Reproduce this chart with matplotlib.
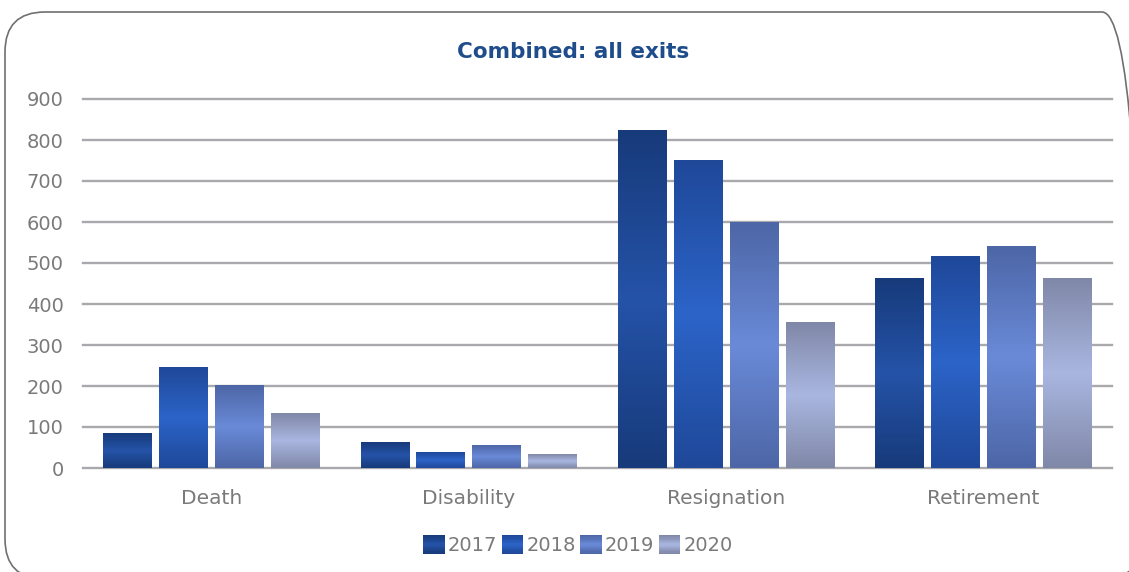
import numpy as np
import matplotlib
matplotlib.use('Agg')
import matplotlib.pyplot as plt
import matplotlib.patches as mpatches
import matplotlib.transforms as mtransforms
from matplotlib.colors import LinearSegmentedColormap
from matplotlib.legend_handler import HandlerBase

categories = ['Death', 'Disability', 'Resignation', 'Retirement']
years = ['2017', '2018', '2019', '2020']
exits_2017 = [84, 61, 822, 461]
exits_2018 = [244, 39, 751, 515]
exits_2019 = [202, 54, 600, 541]
exits_2020 = [134, 32, 354, 461]
series = [exits_2017, exits_2018, exits_2019, exits_2020]

# (edge, middle) colours of the vertical gradient for each year
shades = [('#173a7a', '#2553a8'),
          ('#1f4899', '#2c64c8'),
          ('#4d66a6', '#6a8ad8'),
          ('#8088a8', '#a9b6e0')]
cmaps = [LinearSegmentedColormap.from_list(y, [e, m, e]) for y, (e, m) in zip(years, shades)]

GREY = '#7a7a7a'
GRID = '#a9a9ad'

fig = plt.figure(figsize=(11.29, 5.72), dpi=100)
ax = fig.add_axes([83 / 1129, 1 - 468 / 572, 1029 / 1129, 369 / 572])

x = np.arange(len(categories))
pitch = 0.2175
width = 0.19
grad = np.linspace(0, 1, 256).reshape(-1, 1)

for i, (vals, cmap) in enumerate(zip(series, cmaps)):
    pos = x + (i - 1.5) * pitch
    bars = ax.bar(pos, vals, width, color='none', label=years[i], zorder=3)
    for b in bars:
        x0, w, h = b.get_x(), b.get_width(), b.get_height()
        ax.imshow(grad, cmap=cmap, aspect='auto', origin='lower',
                  extent=[x0, x0 + w, 0, h], zorder=3, interpolation='bilinear')

ax.set_xlim(-0.5, 3.5)
ax.set_ylim(0, 900)
ax.set_yticks(range(0, 901, 100))
ax.set_xticks(x)
ax.set_xticklabels(categories)
ax.grid(axis='y', color=GRID, linewidth=1.7, zorder=0)
for gl in ax.get_ygridlines():
    gl.set_clip_on(False)
ax.set_axisbelow(True)
for s in ax.spines.values():
    s.set_visible(False)
ax.tick_params(axis='y', length=0, pad=14, labelsize=14, labelcolor=GREY)
ax.tick_params(axis='x', length=0, pad=15, labelsize=14.5, labelcolor=GREY)

fig.text(573 / 1129, 1 - 52 / 572, 'Combined: all exits', ha='center', va='center',
         fontsize=15.5, fontweight='bold', color='#1f4d8c')


class GradientHandler(HandlerBase):
    def __init__(self, cmap):
        super().__init__()
        self.cmap = cmap

    def create_artists(self, legend, orig_handle, xdescent, ydescent,
                       width, height, fontsize, trans):
        n = 16
        out = []
        for k in range(n):
            r = mpatches.Rectangle((-xdescent, -ydescent + k * height / n),
                                   width, height / n * 1.05,
                                   facecolor=self.cmap(k / (n - 1)),
                                   edgecolor='none', transform=trans)
            out.append(r)
        return out


handles = [mpatches.Patch(label=y) for y in years]
hmap = {h: GradientHandler(c) for h, c in zip(handles, cmaps)}
leg = fig.legend(handles=handles, handler_map=hmap, loc='center',
                 bbox_to_anchor=(578 / 1129, 1 - 545 / 572), ncol=4, frameon=False,
                 fontsize=14, handlelength=1.1, handleheight=1.1,
                 handletextpad=0.15, columnspacing=0.25)
for t in leg.get_texts():
    t.set_color(GREY)

# rounded chart frame, partly running off the right and bottom edges
frame = mpatches.FancyBboxPatch((5, -7), 1137, 567,
                                boxstyle='round,pad=0,rounding_size=40',
                                facecolor='none', edgecolor='#707070', linewidth=1.2,
                                transform=mtransforms.IdentityTransform())
fig.patches.append(frame)

fig.savefig('out.png', dpi=100)
